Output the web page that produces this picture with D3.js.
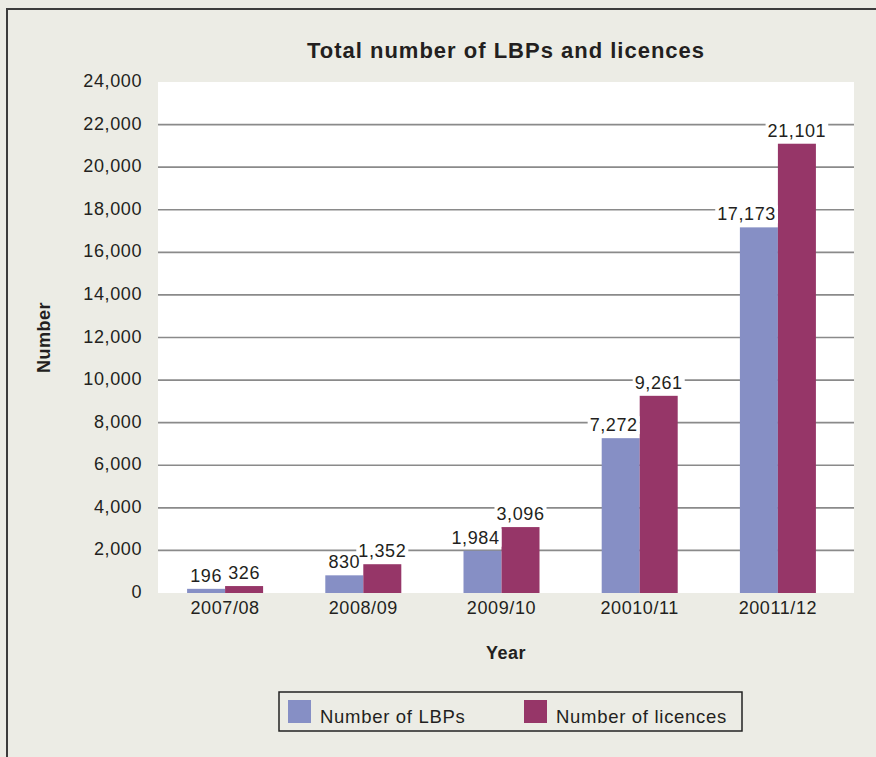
<!DOCTYPE html>
<html><head><meta charset="utf-8">
<script src="https://cdn.jsdelivr.net/npm/d3@7"></script>
<style>
html,body{margin:0;padding:0;background:#ecece5;}
text{font-family:"Liberation Sans",Arial,sans-serif;fill:#231f20;}
</style></head>
<body>
<svg id="chart" width="876" height="757"></svg>
<script>
const categories = ["2007/08","2008/09","2009/10","20010/11","20011/12"];
const seriesNames = ["Number of LBPs","Number of licences"];
const lbps = [196, 830, 1984, 7272, 17173];
const licences = [326, 1352, 3096, 9261, 21101];
const yTicks = [0,2000,4000,6000,8000,10000,12000,14000,16000,18000,20000,22000,24000];
const colors = ["#868fc5","#963668"];

const svg = d3.select("#chart");
const W = 876, H = 757;
const plot = {left:158, right:854, top:82, bottom:593};

// background and frame
svg.append("rect").attr("x",0).attr("y",0).attr("width",W).attr("height",H).attr("fill","#ecece5");
svg.append("rect").attr("x",7).attr("y",9).attr("width",W+20).attr("height",H+20)
  .attr("fill","none").attr("stroke","#3c3c3c").attr("stroke-width",2);

// plot area
svg.append("rect").attr("x",plot.left).attr("y",plot.top)
  .attr("width",plot.right-plot.left).attr("height",plot.bottom-plot.top).attr("fill","#ffffff");

const y = d3.scaleLinear().domain([0,24000]).range([plot.bottom, plot.top]);
const x0 = d3.scaleBand().domain(categories).range([156, 847]).paddingInner(0.45).paddingOuter(0.225);
const x1 = d3.scaleBand().domain(seriesNames).range([0, x0.bandwidth()]);

// gridlines
svg.append("g").selectAll("line").data(yTicks.filter(t => t>0 && t<24000)).join("line")
  .attr("x1",plot.left).attr("x2",plot.right)
  .attr("y1",d=>y(d)).attr("y2",d=>y(d))
  .attr("stroke","#8a8a8a").attr("stroke-width",1.6);

// y tick labels
const fmt = d3.format(",");
svg.append("g").selectAll("text").data(yTicks).join("text")
  .attr("x",142).attr("y",d=>y(d)+5)
  .attr("text-anchor","end").attr("font-size",18).attr("letter-spacing",0.6)
  .text(d=>fmt(d));

// bars
const rows = categories.map((c,i)=>({cat:c, vals:[lbps[i], licences[i]]}));
const groups = svg.append("g").selectAll("g").data(rows).join("g")
  .attr("transform",d=>`translate(${x0(d.cat)},0)`);
groups.selectAll("rect").data(d=>d.vals.map((v,j)=>({v, s:seriesNames[j], j}))).join("rect")
  .attr("x",d=>x1(d.s)).attr("width",x1.bandwidth())
  .attr("y",d=>y(d.v)).attr("height",d=>y(0)-y(d.v))
  .attr("fill",d=>colors[d.j]);

// value labels with white background (backgrounds drawn first, then texts)
const bgG = svg.append("g");
const labG = svg.append("g");
rows.forEach(r=>{
  r.vals.forEach((v,j)=>{
    const bx = x0(r.cat) + x1(seriesNames[j]);
    const cx = bx + x1.bandwidth()/2;
    const bg = bgG.append("rect").attr("fill","#ffffff");
    const t = labG.append("text").attr("y", y(v)-7).attr("text-anchor","middle")
      .attr("font-size",18).attr("letter-spacing",0.6).text(fmt(v));
    t.attr("x", cx);
    const w = t.node().getComputedTextLength();
    let xx = cx;
    if (j===0) xx = Math.min(cx, bx + x1.bandwidth() - 2 - w/2);
    t.attr("x", xx);
    bg.attr("x", xx - w/2 - 2).attr("y", y(v)-7-15).attr("width", w+4).attr("height", 18);
  });
});

// x labels
svg.append("g").selectAll("text").data(categories).join("text")
  .attr("x",d=>x0(d)+x0.bandwidth()/2).attr("y",614)
  .attr("text-anchor","middle").attr("font-size",18).attr("letter-spacing",0.6)
  .text(d=>d);

// title
svg.append("text").attr("x",(plot.left+plot.right)/2).attr("y",58)
  .attr("text-anchor","middle").attr("font-size",22).attr("font-weight","bold")
  .attr("letter-spacing",1).text("Total number of LBPs and licences");

// axis titles
svg.append("text").attr("x",506).attr("y",659).attr("text-anchor","middle")
  .attr("font-size",18).attr("font-weight","bold").attr("letter-spacing",0.5).text("Year");
svg.append("text").attr("transform",`translate(50,${(plot.top+plot.bottom)/2}) rotate(-90)`)
  .attr("text-anchor","middle").attr("font-size",18).attr("font-weight","bold")
  .attr("letter-spacing",0.5).text("Number");

// legend
const lg = svg.append("g");
lg.append("rect").attr("x",279).attr("y",692).attr("width",463).attr("height",39)
  .attr("fill","none").attr("stroke","#222").attr("stroke-width",1.5);
const legX = [288, 524];
seriesNames.forEach((s,i)=>{
  lg.append("rect").attr("x",legX[i]).attr("y",700).attr("width",23).attr("height",23).attr("fill",colors[i]);
  lg.append("text").attr("x",legX[i]+32).attr("y",723).attr("font-size",18.5)
    .attr("letter-spacing",0.7).text(s);
});
</script>
</body></html>
